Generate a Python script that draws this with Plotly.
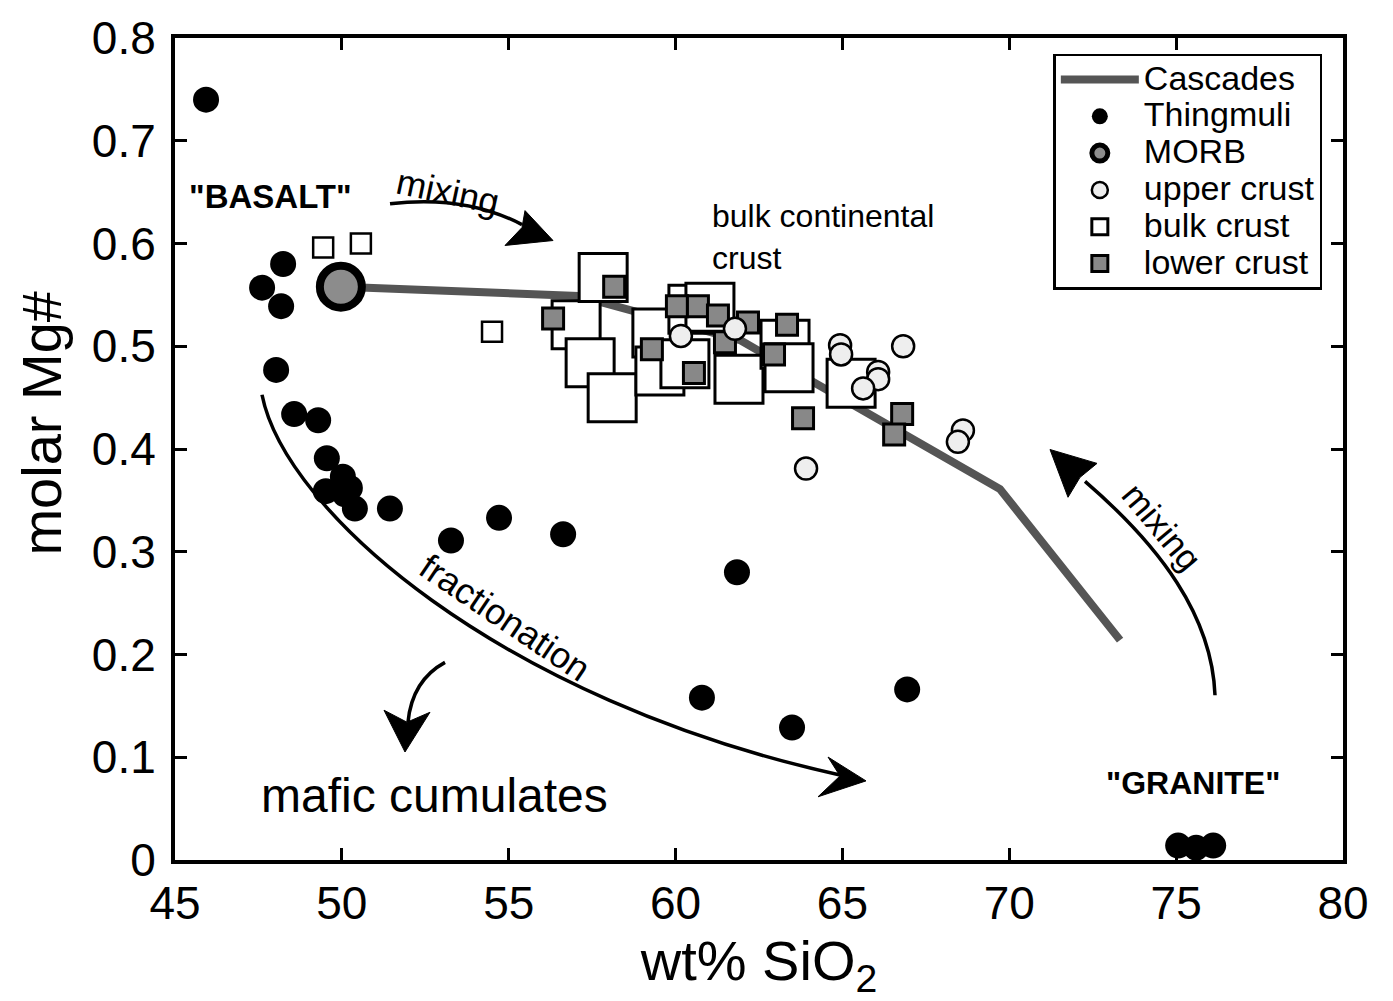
import plotly.graph_objects as go

# ---------------- data ----------------
cascades_sio2 = [49.97, 57.08, 61.93, 69.72, 73.32]
cascades_mg = [0.558, 0.549, 0.506, 0.361, 0.214]

thingmuli_sio2 = [45.93, 47.61, 48.24, 48.18, 48.03, 48.57, 49.29, 49.55, 50.03, 50.24,
                  49.52, 50.09, 50.39, 51.44, 53.27, 54.71, 56.63, 61.84, 60.79, 63.49,
                  66.94, 75.06, 75.60, 76.11]
thingmuli_mg = [0.740, 0.557, 0.580, 0.539, 0.477, 0.434, 0.428, 0.391, 0.373, 0.362,
                0.359, 0.356, 0.342, 0.342, 0.311, 0.333, 0.317, 0.280, 0.158, 0.129,
                0.166, 0.014, 0.012, 0.014]

morb_sio2 = [49.97]
morb_mg = [0.558]

upper_sio2 = [60.16, 61.78, 64.93, 64.96, 66.82, 66.07, 66.07, 65.62, 68.61, 68.46, 63.91]
upper_mg = [0.510, 0.517, 0.501, 0.492, 0.500, 0.475, 0.468, 0.459, 0.418, 0.407, 0.381]

bulk_sio2 = [57.02, 57.83, 57.44, 58.10, 59.44, 59.53, 60.52, 60.28, 61.03, 61.90,
             63.28, 63.40, 65.26]
bulk_mg = [0.521, 0.567, 0.484, 0.450, 0.513, 0.476, 0.536, 0.483, 0.538, 0.468,
           0.502, 0.479, 0.464]

bulk_small_sio2 = [49.44, 50.57, 54.50]
bulk_small_mg = [0.596, 0.600, 0.514]

lower_sio2 = [58.16, 56.33, 59.29, 60.04, 60.67, 61.27, 62.17, 61.48, 60.55, 63.34,
              62.95, 63.82, 66.79, 66.55]
lower_mg = [0.558, 0.527, 0.497, 0.539, 0.539, 0.530, 0.523, 0.504, 0.474, 0.521,
            0.492, 0.430, 0.434, 0.414]

x_ticks = [45, 50, 55, 60, 65, 70, 75, 80]
y_ticks = [0, 0.1, 0.2, 0.3, 0.4, 0.5, 0.6, 0.7, 0.8]
y_ticklabels = ["0", "0.1", "0.2", "0.3", "0.4", "0.5", "0.6", "0.7", "0.8"]

FONT = "Liberation Sans, Arial, Helvetica, sans-serif"


def lg(name):
    # legend label drawn larger than the legend's line spacing font
    return '<span style="font-size:34px">' + name + '</span>'


fig = go.Figure()

fig.add_trace(go.Scatter(x=cascades_sio2, y=cascades_mg, mode="lines", name=lg("Cascades"),
                         line=dict(color="#555555", width=8), legendrank=1))
fig.add_trace(go.Scatter(x=bulk_sio2, y=bulk_mg, mode="markers", name=lg("bulk crust"),
                         legendgroup="bulk", legendrank=5,
                         marker=dict(symbol="square", size=48, color="white",
                                     line=dict(color="black", width=3))))
fig.add_trace(go.Scatter(x=bulk_small_sio2, y=bulk_small_mg, mode="markers", name="bulk crust",
                         legendgroup="bulk", showlegend=False,
                         marker=dict(symbol="square", size=20, color="white",
                                     line=dict(color="black", width=2.5))))
fig.add_trace(go.Scatter(x=lower_sio2, y=lower_mg, mode="markers", name=lg("lower crust"),
                         legendrank=6,
                         marker=dict(symbol="square", size=21, color="#888888",
                                     line=dict(color="black", width=3))))
fig.add_trace(go.Scatter(x=upper_sio2, y=upper_mg, mode="markers", name=lg("upper crust"),
                         legendrank=4,
                         marker=dict(symbol="circle", size=22, color="#eeeeee",
                                     line=dict(color="black", width=2.5))))
fig.add_trace(go.Scatter(x=thingmuli_sio2, y=thingmuli_mg, mode="markers", name=lg("Thingmuli"),
                         legendrank=2,
                         marker=dict(symbol="circle", size=26, color="black",
                                     line=dict(color="black", width=0))))
fig.add_trace(go.Scatter(x=morb_sio2, y=morb_mg, mode="markers", name=lg("MORB"),
                         legendrank=3,
                         marker=dict(symbol="circle", size=42, color="#8c8c8c",
                                     line=dict(color="black", width=8))))

# ---------------- curved arrows ----------------
shapes = []


def curve(path):
    shapes.append(dict(type="path", path=path, xref="x", yref="y",
                       line=dict(color="black", width=3.5), layer="above"))


def head(path):
    shapes.append(dict(type="path", path=path, xref="x", yref="y",
                       fillcolor="black", line=dict(color="black", width=1), layer="above"))


# fractionation
curve("M 47.607,0.4528 C 48.296,0.3395 54.739,0.1555 64.927,0.0828")
head("M 65.706,0.0770 L 64.568,0.1002 L 64.927,0.0818 L 64.268,0.0615 Z")
# top mixing
curve("M 51.443,0.6387 Q 53.690,0.6475 55.398,0.6184")
head("M 56.327,0.6029 L 55.488,0.6320 L 55.398,0.6155 L 54.889,0.5981 Z")
# right mixing
curve("M 76.165,0.1603 C 76.075,0.2378 74.517,0.3056 72.269,0.3685")
head("M 71.220,0.3995 L 72.629,0.3860 L 72.119,0.3724 L 71.760,0.3530 Z")
# mafic cumulates
curve("M 53.091,0.1923 Q 52.102,0.1748 51.982,0.1341")
head("M 51.892,0.1051 L 51.263,0.1458 L 51.952,0.1341 L 52.641,0.1438 Z")

# ---------------- text ----------------
annotations = [
    dict(x=47.85, y=0.646, text="<b>\"BASALT\"</b>", font=dict(size=33)),
    dict(x=75.51, y=0.075, text="<b>\"GRANITE\"</b>", font=dict(size=32)),
    dict(x=53.18, y=0.651, text="mixing", font=dict(size=36), textangle=12),
    dict(x=74.58, y=0.325, text="mixing", font=dict(size=35), textangle=50),
    dict(x=54.89, y=0.236, text="fractionation", font=dict(size=36), textangle=34),
    dict(x=52.79, y=0.0625, text="mafic cumulates", font=dict(size=48)),
    dict(x=61.03, y=0.606, text="bulk continental<br>crust", font=dict(size=32),
         xanchor="left", align="left"),
]
for a in annotations:
    a.setdefault("xanchor", "center")
    a.update(xref="x", yref="y", showarrow=False, yanchor="middle")
    a["font"].update(family=FONT, color="black")

# y-axis title as annotation (sits a bit above the plot centre in the reference)
annotations.append(dict(xref="paper", yref="paper", x=-0.114, y=0.532, text="molar Mg#",
                        textangle=-90, showarrow=False, xanchor="center", yanchor="middle",
                        font=dict(size=56, family=FONT, color="black")))

axis_common = dict(showgrid=False, zeroline=False, showline=True, linecolor="black",
                   linewidth=4, mirror="ticks", ticks="inside", ticklen=12, tickwidth=2.5,
                   tickcolor="black", tickfont=dict(size=46, family=FONT, color="black"))

fig.update_layout(
    width=1393, height=1001,
    margin=dict(l=175, r=50, t=34, b=141),
    paper_bgcolor="white", plot_bgcolor="white",
    font=dict(family=FONT, color="black"),
    showlegend=True,
    legend=dict(x=0.752, y=0.981, xanchor="left", yanchor="top",
                bgcolor="white", bordercolor="black", borderwidth=2.5,
                font=dict(size=26, family=FONT, color="black"),
                itemsizing="trace", itemwidth=78, tracegroupgap=0),
    xaxis=dict(range=[45, 80], tickvals=x_ticks,
               title=dict(text="wt% SiO<sub>2</sub>", font=dict(size=56, family=FONT), standoff=14),
               **axis_common),
    yaxis=dict(range=[0, 0.8], tickvals=y_ticks, ticktext=y_ticklabels,
               ticklabelstandoff=6, **axis_common),
    shapes=shapes,
    annotations=annotations,
)

fig.write_html("out.html")
